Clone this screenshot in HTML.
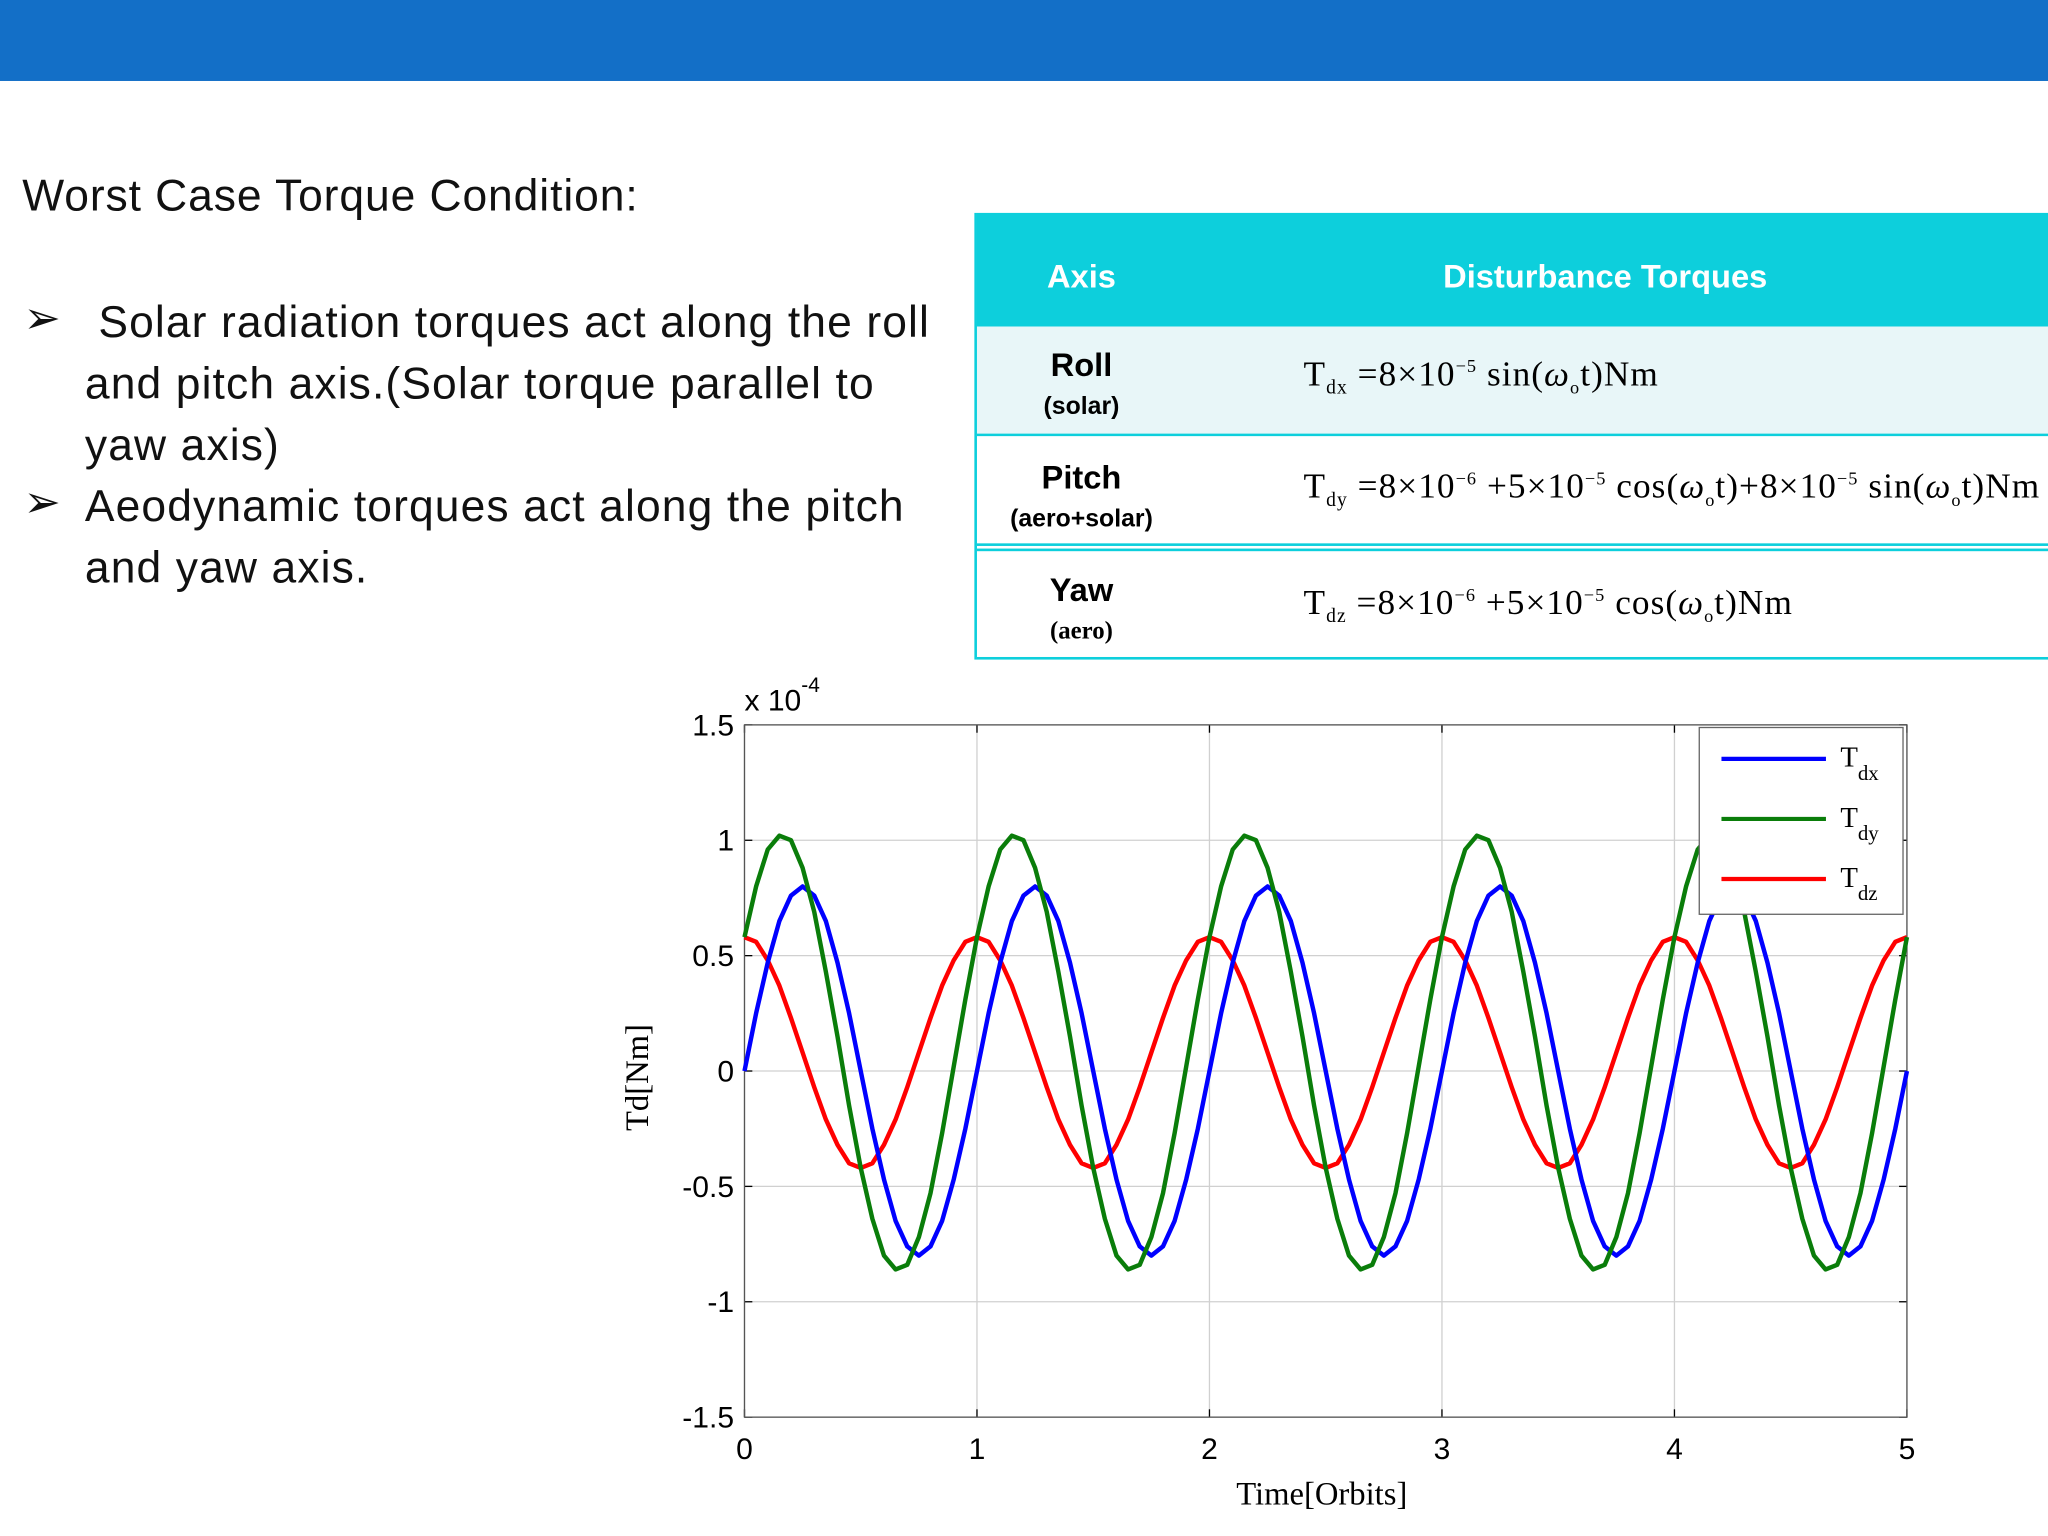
<!DOCTYPE html>
<html><head><meta charset="utf-8"><style>
html,body{margin:0;padding:0;background:#fff;}
#wrap{width:1568px;height:1176px;transform:scale(1.30612);transform-origin:0 0;position:relative;overflow:hidden;font-family:"Liberation Sans",sans-serif;}
.abs{position:absolute;}
.bul{font-size:34px;color:#111;white-space:nowrap;letter-spacing:0.85px;}
.ser{font-family:"Liberation Serif",serif;}
.f{font-size:27px;letter-spacing:0.8px;white-space:nowrap}
</style></head><body>
<div id="wrap">
<div class="abs" style="left:0;top:0;width:1568px;height:62px;background:#136fc7"></div>
<div class="abs bul" style="left:17px;top:131px;letter-spacing:0.7px">Worst Case Torque Condition:</div>
<div class="abs bul" style="left:18px;top:224px">➢</div>
<div class="abs bul" style="left:65px;top:224px;line-height:47px">&nbsp;Solar radiation torques act along the roll<br>and pitch axis.(Solar torque parallel to<br>yaw axis)</div>
<div class="abs bul" style="left:18px;top:365px">➢</div>
<div class="abs bul" style="left:65px;top:365px;line-height:47px">Aeodynamic torques act along the pitch<br>and yaw axis.</div>

<div class="abs" style="left:746px;top:163px;width:822px;height:342px;border-left:2px solid #0dcfdc;box-sizing:border-box">
 <div class="abs" style="left:0;top:0;width:822px;height:87px;background:#0dcfdc;color:#fff;font-weight:bold;font-size:25px">
  <div class="abs" style="left:0;width:160px;top:35px;text-align:center">Axis</div>
  <div class="abs" style="left:300px;width:362px;top:35px;text-align:center">Disturbance Torques</div>
 </div>
 <div class="abs" style="left:0;top:87px;width:822px;height:84px;background:#e8f6f8;border-bottom:2px solid #0dcfdc;box-sizing:border-box">
  <div class="abs" style="left:0;width:160px;top:16px;text-align:center;font-weight:bold;font-size:25px">Roll<br><span style="font-size:19px">(solar)</span></div>
  <div class="abs ser f" style="left:250px;top:21px">T<sub style="font-size:15px">dx</sub> =8×10<sup style="font-size:14px">−5</sup> sin(<i>ω</i><sub style="font-size:14px">o</sub>t)Nm</div>
 </div>
 <div class="abs" style="left:0;top:171px;width:822px;height:84px;background:#fff;border-bottom:2px solid #0dcfdc;box-sizing:border-box">
  <div class="abs" style="left:0;width:160px;top:18px;text-align:center;font-weight:bold;font-size:25px">Pitch<br><span style="font-size:19px">(aero+solar)</span></div>
  <div class="abs ser f" style="left:250px;top:23px">T<sub style="font-size:15px">dy</sub> =8×10<sup style="font-size:14px">−6</sup> +5×10<sup style="font-size:14px">−5</sup> cos(<i>ω</i><sub style="font-size:14px">o</sub>t)+8×10<sup style="font-size:14px">−5</sup> sin(<i>ω</i><sub style="font-size:14px">o</sub>t)Nm</div>
 </div>
 <div class="abs" style="left:0;top:257px;width:822px;height:85px;background:#fff;border-top:2px solid #0dcfdc;border-bottom:2px solid #0dcfdc;box-sizing:border-box">
  <div class="abs" style="left:0;width:160px;top:16px;text-align:center;font-weight:bold;font-size:25px">Yaw<br><span class="ser" style="font-size:19px">(aero)</span></div>
  <div class="abs ser f" style="left:250px;top:24px">T<sub style="font-size:15px">dz</sub> =8×10<sup style="font-size:14px">−6</sup> +5×10<sup style="font-size:14px">−5</sup> cos(<i>ω</i><sub style="font-size:14px">o</sub>t)Nm</div>
 </div>
</div>

<svg class="abs" id="chart" style="left:0;top:0" width="1568" height="1176"></svg>
</div>
<script>
const xTicks=[0,1,2,3,4,5];
const yTicks=[-1.5,-1,-0.5,0,0.5,1,1.5];
const yTickLabels=["-1.5","-1","-0.5","0","0.5","1","1.5"];
const orbits=5;
const samplesPerOrbit=20;
const tdxPeriod=[0,0.25,0.47,0.65,0.76,0.80,0.76,0.65,0.47,0.25,0,-0.25,-0.47,-0.65,-0.76,-0.80,-0.76,-0.65,-0.47,-0.25];
const tdyPeriod=[0.58,0.80,0.96,1.02,1.00,0.88,0.69,0.43,0.15,-0.15,-0.42,-0.64,-0.80,-0.86,-0.84,-0.72,-0.53,-0.27,0.02,0.31];
const tdzPeriod=[0.58,0.56,0.48,0.37,0.23,0.08,-0.07,-0.21,-0.32,-0.40,-0.42,-0.40,-0.32,-0.21,-0.07,0.08,0.23,0.37,0.48,0.56];
const NS="http://www.w3.org/2000/svg";
const svg=document.getElementById('chart');
const L=570,R=1460,T=555,B=1085;
const xs=v=>L+(v-0)/5*(R-L);
const ys=v=>B-(v+1.5)/3*(B-T);
function mk(tag,attrs,parent){const e=document.createElementNS(NS,tag);for(const k in attrs)e.setAttribute(k,attrs[k]);(parent||svg).appendChild(e);return e;}
mk('rect',{x:L,y:T,width:R-L,height:B-T,fill:'#fff'});
xTicks.forEach(v=>{const g=mk('line',{x1:xs(v),x2:xs(v),y1:T,y2:B,stroke:'#d0d0d0','stroke-width':1});

const t=mk('text',{x:xs(v),y:B+32,'text-anchor':'middle','font-size':23,'font-family':'Liberation Sans'});t.textContent=v;

mk('line',{x1:xs(v),x2:xs(v),y1:B,y2:B-6,stroke:'#000'});mk('line',{x1:xs(v),x2:xs(v),y1:T,y2:T+6,stroke:'#000'});});
yTicks.forEach((v,i)=>{const g=mk('line',{x1:L,x2:R,y1:ys(v),y2:ys(v),stroke:'#d0d0d0','stroke-width':1});

const t=mk('text',{x:L-8,y:ys(v)+8,'text-anchor':'end','font-size':23,'font-family':'Liberation Sans'});t.textContent=yTickLabels[i];

mk('line',{x1:L,x2:L+6,y1:ys(v),y2:ys(v),stroke:'#000'});mk('line',{x1:R,x2:R-6,y1:ys(v),y2:ys(v),stroke:'#000'});});
mk('rect',{x:L,y:T,width:R-L,height:B-T,fill:'none',stroke:'#555','stroke-width':1});
function series(per,color,name){let d='';for(let o=0;o<orbits;o++)for(let k=0;k<samplesPerOrbit;k++){const t=o+k/samplesPerOrbit;d+=(d?'L':'M')+xs(t).toFixed(1)+','+ys(per[k]).toFixed(1);}
d+='L'+xs(orbits).toFixed(1)+','+ys(per[0]).toFixed(1);
const p=mk('path',{d:d,fill:'none',stroke:color,'stroke-width':3.4,'stroke-linejoin':'round'});
}
series(tdzPeriod,'#ff0000','tdz-line');
series(tdxPeriod,'#0000ff','tdx-line');
series(tdyPeriod,'#0a7d0a','tdy-line');
const lg=mk('g',{});
mk('rect',{x:1301,y:557,width:156,height:143,fill:'#fff',stroke:'#666','stroke-width':1},lg);
[['#0000ff','dx',581],['#0a7d0a','dy',627],['#ff0000','dz',673]].forEach(a=>{
mk('line',{x1:1318,x2:1398,y1:a[2],y2:a[2],stroke:a[0],'stroke-width':3.2},lg);
const t=mk('text',{x:1409,y:a[2]+6,'font-size':22,'font-family':'Liberation Serif'},lg);
t.innerHTML='T<tspan font-size="16" dy="10">'+a[1]+'</tspan>';
});
const ex=mk('text',{x:570,y:544,'font-size':23,'font-family':'Liberation Sans'});ex.innerHTML='x 10<tspan font-size="16" dy="-14">-4</tspan>';

const yl=mk('text',{x:0,y:0,'font-size':25,'font-family':'Liberation Serif','text-anchor':'middle',transform:'translate(496,825) rotate(-90)'});yl.textContent='Td[Nm]';

const xl=mk('text',{x:1012,y:1152,'font-size':25,'font-family':'Liberation Serif','text-anchor':'middle'});xl.textContent='Time[Orbits]';

</script>
</body></html>
